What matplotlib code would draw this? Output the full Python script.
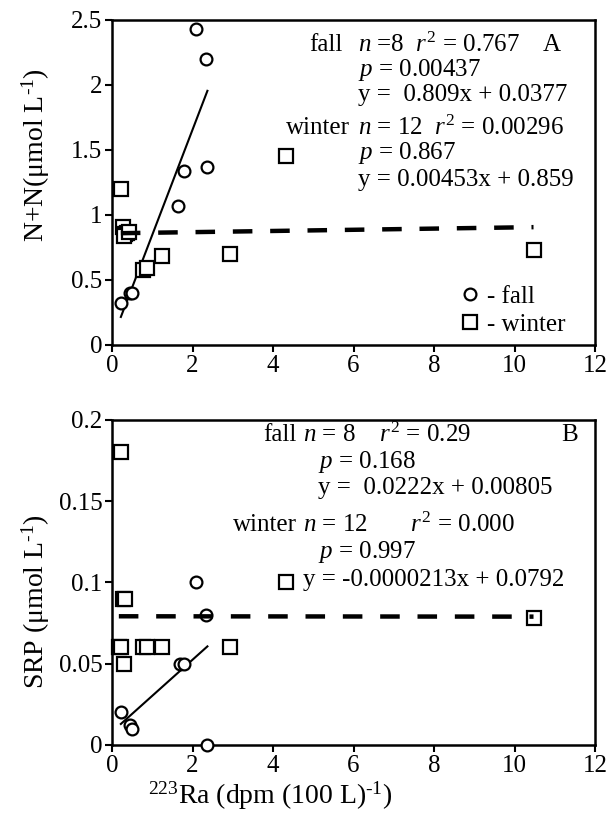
import matplotlib
matplotlib.use("Agg")
import matplotlib.pyplot as plt
import numpy as np
from matplotlib.lines import Line2D

plt.rcParams['font.family'] = ['Liberation Serif', 'DejaVu Serif']
plt.rcParams['mathtext.fontset'] = 'custom'
plt.rcParams['mathtext.rm'] = 'Liberation Serif'
plt.rcParams['mathtext.it'] = 'Liberation Serif:italic'

# ---- Panel A data (N+N) ----
a_fall_x = [0.22, 0.45, 0.50, 1.65, 1.80, 2.08, 2.34, 2.37]
a_fall_y = [0.32, 0.40, 0.40, 1.07, 1.34, 2.43, 2.20, 1.37]
a_winter_x = [0.22, 0.27, 0.32, 0.38, 0.30, 0.42, 0.76, 0.86, 1.23, 2.93, 4.31, 10.47]
a_winter_y = [1.20, 0.91, 0.85, 0.86, 0.84, 0.87, 0.58, 0.59, 0.685, 0.70, 1.456, 0.73]
a_fit_fall = (0.809, 0.0377)
a_fit_winter = (0.00453, 0.859)

# ---- Panel B data (SRP) ----
b_fall_x = [0.22, 0.45, 0.50, 1.69, 1.80, 2.08, 2.34, 2.37]
b_fall_y = [0.020, 0.012, 0.010, 0.050, 0.050, 0.100, 0.080, 0.000]
b_winter_x = [0.22, 0.27, 0.32, 0.17, 0.22, 0.30, 0.76, 0.86, 1.23, 2.93, 4.31, 10.47]
b_winter_y = [0.180, 0.090, 0.090, 0.060, 0.060, 0.050, 0.060, 0.060, 0.060, 0.060, 0.100, 0.078]
b_fit_fall = (0.0222, 0.00805)
b_fit_winter = (-0.0000213, 0.0792)

x_ticks = [0, 2, 4, 6, 8, 10, 12]
a_yticks = [0, 0.5, 1, 1.5, 2, 2.5]
a_yticklabels = ["0", "0.5", "1", "1.5", "2", "2.5"]
b_yticks = [0, 0.05, 0.1, 0.15, 0.2]
b_yticklabels = ["0", "0.05", "0.1", "0.15", "0.2"]

a_text = [
    ("fall", "$n$ =8  $r^2$ = 0.767", "$p$ = 0.00437", "y =  0.809x + 0.0377"),
    ("winter", "$n$ = 12  $r^2$ = 0.00296", "$p$ = 0.867", "y = 0.00453x + 0.859"),
]
b_text = [
    ("fall", "$n$ = 8    $r^2$ = 0.29", "$p$ = 0.168", "y =  0.0222x + 0.00805"),
    ("winter", "$n$ = 12       $r^2$ = 0.000", "$p$ = 0.997", "y = -0.0000213x + 0.0792"),
]

fig = plt.figure(figsize=(6.10, 8.22), dpi=100)
axA = fig.add_axes([0.1836, 0.5803, 0.792, 0.3954])
axB = fig.add_axes([0.1836, 0.0937, 0.792, 0.3954])

FS = 18
TFS = 18
LFS = 20

def draw(ax, fx, fy, wx, wy, ffit, wfit):
    ax.plot(fx, fy, 'o', ms=8.5, mfc='white', mec='black', mew=1.6, ls='none', zorder=3, clip_on=False)
    ax.plot(wx, wy, 's', ms=10, mfc='white', mec='black', mew=1.6, ls='none', zorder=3, clip_on=False)
    xf = np.array([min(fx), max(fx)])
    ax.plot(xf, ffit[0] * xf + ffit[1], '-', color='black', lw=1.5, zorder=2)
    xw = np.array([min(wx), max(wx)])
    ax.plot(xw, wfit[0] * xw + wfit[1], color='black', lw=3.2, dashes=(4.4, 4.0), zorder=4)
    ax.set_xlim(0, 12)
    ax.set_xticks(x_ticks)
    ax.tick_params(direction='out', length=5, width=1.5, labelsize=TFS, pad=2)
    for s in ax.spines.values():
        s.set_linewidth(1.8)

draw(axA, a_fall_x, a_fall_y, a_winter_x, a_winter_y, a_fit_fall, a_fit_winter)
axA.set_ylim(0, 2.5)
axA.set_yticks(a_yticks)
axA.set_yticklabels(a_yticklabels)
axA.set_ylabel("N+N(\u03bcmol L$^{\\text{-}1}$)", fontsize=LFS)
axA.yaxis.set_label_coords(-0.125, 0.585)

draw(axB, b_fall_x, b_fall_y, b_winter_x, b_winter_y, b_fit_fall, b_fit_winter)
axB.set_ylim(0, 0.2)
axB.set_yticks(b_yticks)
axB.set_yticklabels(b_yticklabels)
axB.set_ylabel("SRP (\u03bcmol L$^{\\text{-}1}$)", fontsize=LFS)
axB.yaxis.set_label_coords(-0.125, 0.44)
axB.set_xlabel("$^{223}$Ra (dpm (100 L)$^{\\text{-}1}$)", fontsize=LFS)
axB.xaxis.set_label_coords(0.327, -0.105)

# Panel A annotations
ys = [0.923, 0.846, 0.769, 0.668, 0.591, 0.508]
for i, (season, l1, l2, l3) in enumerate(a_text):
    y0, y1, y2 = ys[3 * i], ys[3 * i + 1], ys[3 * i + 2]
    axA.text(0.492 if i == 1 else 0.478, y0, season, transform=axA.transAxes, ha='right', va='center', fontsize=FS)
    axA.text(0.509, y0, l1, transform=axA.transAxes, ha='left', va='center', fontsize=FS)
    axA.text(0.509, y1, l2, transform=axA.transAxes, ha='left', va='center', fontsize=FS)
    axA.text(0.509, y2, l3, transform=axA.transAxes, ha='left', va='center', fontsize=FS)
axA.text(0.911, 0.923, "A", transform=axA.transAxes, ha='center', va='center', fontsize=FS)

# Panel B annotations
yb = [0.955, 0.871, 0.791, 0.677, 0.594, 0.508]
xb = [0.395, 0.427, 0.427, 0.395, 0.427, 0.395]
for i, (season, l1, l2, l3) in enumerate(b_text):
    axB.text(0.383, yb[3 * i], season, transform=axB.transAxes, ha='right', va='center', fontsize=FS)
    axB.text(xb[3 * i], yb[3 * i], l1, transform=axB.transAxes, ha='left', va='center', fontsize=FS)
    axB.text(xb[3 * i + 1], yb[3 * i + 1], l2, transform=axB.transAxes, ha='left', va='center', fontsize=FS)
    axB.text(xb[3 * i + 2], yb[3 * i + 2], l3, transform=axB.transAxes, ha='left', va='center', fontsize=FS)
axB.text(0.948, 0.955, "B", transform=axB.transAxes, ha='center', va='center', fontsize=FS)

# Legend in panel A
h1 = Line2D([], [], marker='o', ls='none', ms=8.5, mfc='white', mec='black', mew=1.6)
h2 = Line2D([], [], marker='s', ls='none', ms=10, mfc='white', mec='black', mew=1.6)
axA.legend([h1, h2], ["- fall", "- winter"], loc='lower right', bbox_to_anchor=(0.975, -0.025),
           frameon=False, fontsize=FS, handlelength=0.8, handletextpad=0.3, labelspacing=0.2,
           borderaxespad=0.3)

fig.savefig("out.png", dpi=100)
